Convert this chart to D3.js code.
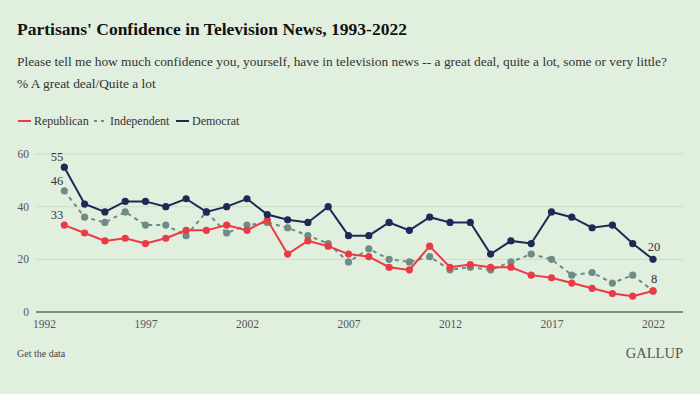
<!DOCTYPE html>
<html>
<head>
<meta charset="utf-8">
<script src="https://cdn.jsdelivr.net/npm/d3@7"></script>
<style>
  body { margin: 0; background: #e1efdf; }
  svg { display: block; }
  svg text { font-family: 'Liberation Serif', 'DejaVu Serif', serif; }
</style>
</head>
<body>
<svg id="chart"></svg>
<script>
const years = d3.range(1993, 2023)

const republican = [33, 30, 27, 28, 26, 28, 31, 31, 33, 31, 35, 22, 27, 25, 22, 21, 17, 16, 25, 17, 18, 17, 17, 14, 13, 11, 9, 7, 6, 8]
const independent = [46, 36, 34, 38, 33, 33, 29, 38, 30, 33, 34, 32, 29, 26, 19, 24, 20, 19, 21, 16, 17, 16, 19, 22, 20, 14, 15, 11, 14, 8]
const democrat = [55, 41, 38, 42, 42, 40, 43, 38, 40, 43, 37, 35, 34, 40, 29, 29, 34, 31, 36, 34, 34, 22, 27, 26, 38, 36, 32, 33, 26, 20]

const yTicks = [0, 20, 40, 60]
const xTicks = [1992, 1997, 2002, 2007, 2012, 2017, 2022]

const series = [
  { name: 'Republican', values: republican, color: '#ec3a45', dash: null },
  { name: 'Independent', values: independent, color: '#6c8c85', dash: '4,4' },
  { name: 'Democrat', values: democrat, color: '#1e2a56', dash: null }
]

const width = 700
const height = 394
const margin = { top: 154, right: 17, bottom: 82, left: 36 }

const svg = d3.select('#chart').attr('width', width).attr('height', height)
  .attr('font-family', "'Liberation Serif', serif")

svg.append('rect').attr('width', width).attr('height', height).attr('fill', '#e1efdf')

// scales
const x = d3.scaleLinear().domain([1992, 2022]).range([44, 653])
const y = d3.scaleLinear().domain([0, 60]).range([height - margin.bottom, margin.top])

// titles
svg.append('text')
  .text("Partisans' Confidence in Television News, 1993-2022")
  .attr('x', 17).attr('y', 35)
  .attr('font-size', 17.5).attr('font-weight', 700).attr('fill', '#111')

svg.append('text')
  .text('Please tell me how much confidence you, yourself, have in television news -- a great deal, quite a lot, some or very little?')
  .attr('x', 17).attr('y', 66)
  .attr('font-size', 13.4).attr('fill', '#333')

svg.append('text')
  .text('% A great deal/Quite a lot')
  .attr('x', 17).attr('y', 88)
  .attr('font-size', 13.4).attr('fill', '#333')

// legend
const legend = svg.append('g').attr('transform', 'translate(18, 121)')
const legendX = [0, 76, 158]
series.forEach((s, i) => {
  const g = legend.append('g').attr('transform', `translate(${legendX[i]}, 0)`)
  g.append('line')
    .attr('x1', 0).attr('x2', 13).attr('y1', 0).attr('y2', 0)
    .attr('stroke', s.color).attr('stroke-width', 2)
    .attr('stroke-dasharray', s.dash ? '3,4' : null)
  g.append('text')
    .text(s.name)
    .attr('x', 16).attr('y', 4)
    .attr('font-size', 12).attr('fill', '#333')
})

// gridlines
svg.append('g')
  .selectAll('line')
  .data(yTicks.filter(d => d > 0))
  .enter()
  .append('line')
  .attr('x1', 36).attr('x2', 683)
  .attr('y1', d => y(d)).attr('y2', d => y(d))
  .attr('stroke', '#cbdcc8').attr('stroke-width', 1)

// y labels
svg.append('g')
  .selectAll('text')
  .data(yTicks)
  .enter()
  .append('text')
  .text(d => d)
  .attr('x', 29).attr('y', d => y(d) + 4)
  .attr('text-anchor', 'end')
  .attr('font-size', 11.5).attr('fill', '#555')

// baseline
svg.append('line')
  .attr('x1', 36).attr('x2', 683)
  .attr('y1', y(0)).attr('y2', y(0))
  .attr('stroke', '#7f8d7b').attr('stroke-width', 2)

// x axis
const xAxis = svg.append('g')
  .attr('transform', `translate(0, ${y(0)})`)
  .call(d3.axisBottom(x).tickValues(xTicks).tickFormat(d3.format('d')).tickSize(0).tickPadding(8))
xAxis.attr('font-family', null)
xAxis.select('.domain').remove()
xAxis.selectAll('text')
  .attr('font-size', 11.5).attr('fill', '#555')

// lines
const line = d3.line()
  .x((d, i) => x(years[i]))
  .y(d => y(d))

const lines = svg.append('g')
// independent underneath, democrat on top
const order = [1, 0, 2]
order.forEach(k => {
  const s = series[k]
  lines.append('path')
    .datum(s.values)
    .attr('d', line)
    .attr('fill', 'none')
    .attr('stroke', s.color)
    .attr('stroke-width', 2)
    .attr('stroke-dasharray', s.dash)

  lines.selectAll(`.dot-${k}`)
    .data(s.values)
    .enter()
    .append('circle')
    .attr('class', `dot-${k}`)
    .attr('cx', (d, i) => x(years[i]))
    .attr('cy', d => y(d))
    .attr('r', 3.6)
    .attr('fill', s.color)
})

// end labels
series.forEach(s => {
  const first = s.values[0]
  const last = s.values[s.values.length - 1]
  svg.append('text')
    .text(first)
    .attr('x', x(years[0]) - 1)
    .attr('y', y(first) - 6)
    .attr('text-anchor', 'end')
    .attr('font-size', 12.5).attr('fill', '#333')
  if (s.name !== 'Independent') {
    svg.append('text')
      .text(last)
      .attr('x', x(years[years.length - 1]) + 1)
      .attr('y', y(last) - 8)
      .attr('text-anchor', 'middle')
      .attr('font-size', 12.5).attr('fill', '#333')
  }
})

// footer
svg.append('text')
  .text('Get the data')
  .attr('x', 17).attr('y', 357)
  .attr('font-size', 10).attr('fill', '#444')

svg.append('text')
  .text('GALLUP')
  .attr('x', 683).attr('y', 358)
  .attr('text-anchor', 'end')
  .attr('font-size', 14.5).attr('fill', '#555')
</script>
</body>
</html>
